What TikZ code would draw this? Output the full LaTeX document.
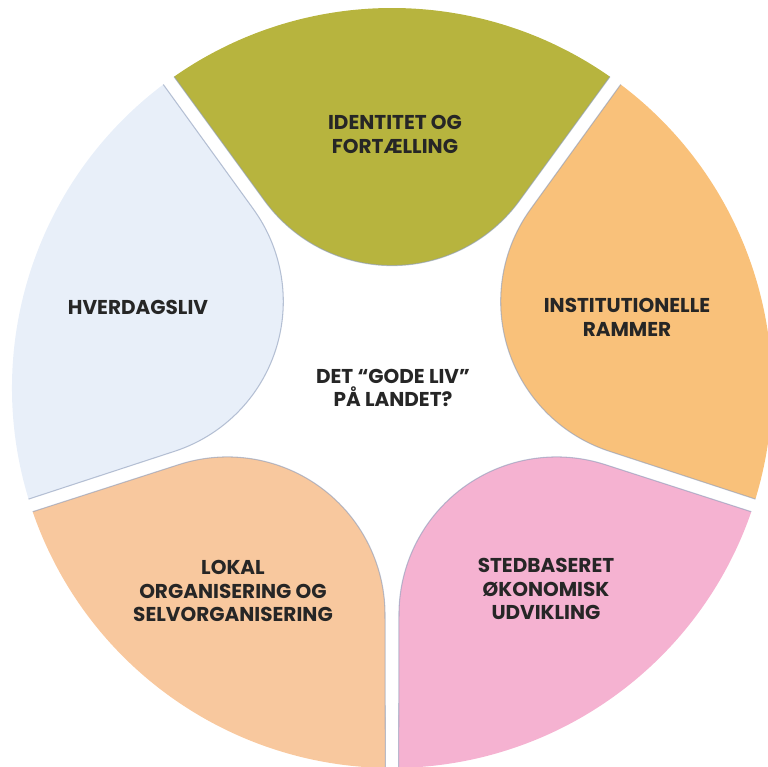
\documentclass[tikz,border=0pt]{standalone}
\usepackage{fontspec}
\setmainfont{Poppins}
\usetikzlibrary{calc}

\definecolor{olivepetal}{RGB}{183,180,62}
\definecolor{orangepetal}{RGB}{249,193,122}
\definecolor{pinkpetal}{RGB}{245,178,209}
\definecolor{peachpetal}{RGB}{248,200,158}
\definecolor{bluepetal}{RGB}{232,239,249}
\definecolor{edgegray}{RGB}{140,155,185}
\definecolor{labeltext}{RGB}{38,38,38}

\begin{document}
\begin{tikzpicture}[
    x=0.02cm, y=0.02cm,
    % Styles
    petal/.style={fill=#1},
    petaledge/.style={draw=edgegray, line width=0.6pt, opacity=0.6},
    petallabel/.style={font=\fontsize{11.4}{13.6}\selectfont\bfseries, text=labeltext, align=center},
]
    % Page frame, circle centre at the origin
    \useasboundingbox (-392,-379) rectangle (376,388);

    % Petals: axis angle / colour / label position / name / text
    \foreach \a/\col/\pos/\n/\txt in {
        90/olivepetal/{(3,254)}/identitet/{IDENTITET OG\\FORTÆLLING},
        18/orangepetal/{(235,71)}/rammer/{INSTITUTIONELLE\\RAMMER},
        -54/pinkpetal/{(154,-201)}/oekonomi/{STEDBASERET\\ØKONOMISK\\UDVIKLING},
        -126/peachpetal/{(-159,-203)}/lokal/{LOKAL\\ORGANISERING OG\\SELVORGANISERING},
        162/bluepetal/{(-254,81)}/hverdag/{HVERDAGSLIV}}
    {
        \fill[petal=\col] (\a-35:380) arc[start angle=\a-35, end angle=\a+35, radius=380]
            -- ($(\a:280)+(\a+126:157.6)$) arc[start angle=\a+126, end angle=\a+234, radius=157.6] -- cycle;
        \draw[petaledge] (\a+35:380) -- ($(\a:280)+(\a+126:157.6)$)
            arc[start angle=\a+126, end angle=\a+234, radius=157.6] -- (\a-35:380);
        \node[petallabel] (\n) at \pos {\txt};
    }

    % Centre question
    \node[petallabel] (godeliv) at (1,0) {DET “GODE LIV”\\PÅ LANDET?};
\end{tikzpicture}
\end{document}
